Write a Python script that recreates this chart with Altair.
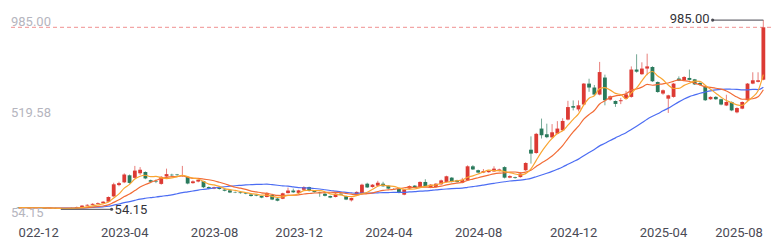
import altair as alt
import pandas as pd
import numpy as np

# ---- data (weekly candles) ----
opens = [63, 61, 64, 60, 63, 60, 58, 61, 57, 56, 59, 61, 66, 73, 77, 82, 86, 93, 120, 178,
         192, 228, 215, 238, 245, 203, 199, 184, 222, 231, 232, 225, 219, 188, 196, 198, 168, 160, 165, 155,
         151, 142, 141, 137, 130, 129, 122, 117, 127, 109, 108, 137, 150, 138, 154, 168, 148, 142, 134, 122,
         117, 134, 122, 100, 126, 137, 185, 168, 175, 185, 175, 158, 158, 129, 160, 175, 168, 194, 165, 168,
         182, 194, 216, 202, 190, 202, 274, 254, 242, 244, 248, 250, 270, 216, 218, 219, 254, 359, 342, 467,
         438, 422, 441, 458, 513, 582, 565, 590, 697, 677, 641, 728, 615, 608, 607, 620, 629, 769, 745, 774,
         782, 705, 646, 620, 629, 723, 714, 726, 719, 700, 683, 617, 629, 617, 585, 603, 550, 569, 612, 697,
         706, 717]
closes = [61, 64, 60, 63, 60, 58, 61, 57, 56, 59, 61, 66, 73, 77, 82, 86, 93, 117, 182, 188,
          232, 189, 252, 256, 212, 195, 196, 220, 234, 228, 229, 228, 186, 197, 205, 167, 160, 167, 158, 149,
          140, 140, 137, 134, 122, 124, 114, 138, 104, 98, 136, 150, 141, 151, 168, 148, 142, 139, 123, 114,
          134, 129, 104, 112, 143, 180, 166, 180, 190, 172, 160, 157, 139, 155, 173, 165, 194, 172, 180, 185,
          202, 223, 194, 194, 205, 274, 258, 242, 250, 250, 262, 258, 216, 224, 214, 237, 291, 339, 440, 433,
          423, 448, 467, 506, 577, 574, 586, 697, 677, 641, 756, 612, 632, 593, 612, 642, 769, 758, 774, 785,
          709, 654, 663, 637, 697, 712, 731, 716, 693, 690, 612, 629, 617, 590, 603, 560, 572, 603, 697, 714,
          714, 985]
highs = [64, 65, 65, 64, 64, 61, 62, 62, 58, 60, 63, 68, 75, 80, 85, 89, 96, 120, 190, 195,
         238, 232, 276, 270, 248, 206, 206, 224, 262, 236, 235, 276, 222, 202, 208, 200, 171, 170, 167, 157,
         153, 145, 143, 139, 132, 131, 124, 141, 129, 112, 139, 165, 160, 154, 172, 170, 150, 144, 136, 124,
         137, 136, 124, 114, 146, 185, 190, 183, 200, 195, 177, 162, 160, 157, 176, 178, 197, 208, 183, 188,
         206, 226, 219, 205, 215, 279, 280, 257, 260, 254, 274, 262, 274, 228, 221, 245, 295, 427, 445, 518,
         492, 490, 505, 520, 609, 611, 611, 700, 722, 690, 808, 743, 636, 611, 624, 660, 785, 847, 806, 850,
         786, 708, 667, 640, 700, 734, 735, 769, 721, 705, 686, 632, 633, 620, 640, 606, 576, 606, 700, 755,
         755, 985]
lows = [59, 60, 59, 59, 58, 57, 57, 56, 54.15, 55, 58, 60, 65, 71, 75, 80, 84, 90, 118, 172,
        188, 185, 212, 230, 208, 190, 188, 180, 218, 224, 225, 220, 182, 185, 192, 163, 156, 157, 155, 146,
        137, 137, 134, 131, 119, 121, 111, 115, 101, 95, 106, 135, 138, 135, 150, 145, 139, 118, 120, 111,
        115, 126, 101, 94, 123, 134, 163, 165, 172, 169, 157, 153, 136, 126, 157, 162, 165, 169, 162, 165,
        179, 191, 191, 191, 187, 199, 255, 239, 239, 241, 245, 247, 212, 213, 211, 216, 250, 288, 338, 416,
        418, 418, 438, 455, 509, 560, 555, 586, 655, 636, 637, 586, 610, 578, 592, 617, 625, 753, 742, 740,
        705, 650, 640, 547, 625, 710, 710, 713, 690, 686, 608, 614, 614, 586, 582, 556, 545, 566, 609, 694,
        703, 714]

x_label_pos = [3.7, 20, 37, 53, 70, 87, 105, 122, 136.3]
x_label_text = ["022-12", "2023-04", "2023-08", "2023-12", "2024-04", "2024-08",
                "2024-12", "2025-04", "2025-08"]
y_label_vals = [985.00, 519.58, 54.15]

N = len(closes)
df = pd.DataFrame({"i": list(range(N)), "open": opens, "close": closes,
                   "high": highs, "low": lows})
df["dir"] = np.where(df["close"] >= df["open"], "up", "down")

UP, DOWN = "#dc3a34", "#2a7a5c"
FONT = "Roboto"

xs = alt.Scale(domain=[-0.5, N - 0.5], nice=False, zero=False)
ys = alt.Scale(domain=[9.6, 1073.5], nice=False, zero=False)

lab_arr = "[" + ",".join("'%s'" % t for t in x_label_text) + "]"
pos_arr = "[" + ",".join(str(p) for p in x_label_pos) + "]"
xaxis = alt.Axis(values=x_label_pos, labelExpr=f"{lab_arr}[indexof({pos_arr}, datum.value)]",
                 title=None, grid=False, domain=False, ticks=False, labelPadding=8,
                 labelFontSize=13, labelColor="#4a4a55", labelFont=FONT, labelFlush=False,
                 labelOverlap=False)

def X(field="i"):
    return alt.X(f"{field}:Q", scale=xs, axis=xaxis)

def Y(field):
    return alt.Y(f"{field}:Q", scale=ys, axis=None)

color_dir = alt.Color("dir:N", scale=alt.Scale(domain=["up", "down"], range=[UP, DOWN]), legend=None)

base = alt.Chart(df)

wicks = base.mark_rule(strokeWidth=1, opacity=0.65).encode(
    x=X(), y=Y("low"), y2="high:Q", color=color_dir)
bodies = base.mark_bar(size=3.8).encode(
    x=X(), y=Y("open"), y2="close:Q", color=color_dir)

def ma(n, color):
    return base.transform_window(
        ma=f"mean(close)", frame=[-(n - 1), 0], sort=[alt.SortField("i")]
    ).mark_line(color=color, strokeWidth=1.2, interpolate="monotone").encode(x=X(), y=Y("ma"))

ma5 = ma(5, "#f9a531")
ma10 = ma(10, "#f26c36")
ma30 = ma(30, "#4c6df3")

# dashed max line
maxline = alt.Chart(pd.DataFrame({"v": [max(highs)]})).mark_rule(
    color="#f09090", strokeDash=[4, 3], strokeWidth=1).encode(y=Y("v"))

# y labels inside the plot
ylab = pd.DataFrame({"v": y_label_vals, "t": ["%.2f" % v for v in y_label_vals]})
ylab_top = alt.Chart(ylab.iloc[:2]).mark_text(
    align="left", baseline="middle", dy=-5, fontSize=13, font=FONT, color="#b5b5be").encode(
    x=alt.value(0), y=Y("v"), text="t:N")
ylab_bot = alt.Chart(ylab.iloc[2:]).mark_text(
    align="left", baseline="middle", dy=4, fontSize=13, font=FONT, color="#b5b5be").encode(
    x=alt.value(0), y=Y("v"), text="t:N")

# max / min markers
imax = int(np.argmax(highs)); vmax = highs[imax]
imin = int(np.argmin(lows)); vmin = lows[imin]
OFF, RISE = 9.6, 37.0
mk = pd.DataFrame({
    "x": [imax - OFF, imin], "x2": [imax, imin + OFF],
    "y": [vmax + RISE, vmin]})
hlines = alt.Chart(mk).mark_rule(color="#6b6b73", strokeWidth=1.2).encode(
    x=X("x"), x2="x2:Q", y=Y("y"))
vline = alt.Chart(pd.DataFrame({"x": [imax], "y": [vmax], "y2": [vmax + RISE]})).mark_rule(
    color="#ee9a9a", strokeWidth=1.2).encode(x=X("x"), y=Y("y"), y2="y2:Q")
dots = alt.Chart(pd.DataFrame({"x": [imax - OFF, imin + OFF], "y": [vmax + RISE, vmin]})).mark_point(
    filled=True, size=10, color="#4a4a52", opacity=1).encode(x=X("x"), y=Y("y"))
lab_max = alt.Chart(pd.DataFrame({"x": [imax - OFF], "y": [vmax + RISE], "t": ["%.2f" % vmax]})).mark_text(
    align="right", baseline="middle", dx=-3, dy=-1, fontSize=13, font=FONT, color="#333338").encode(
    x=X("x"), y=Y("y"), text="t:N")
lab_min = alt.Chart(pd.DataFrame({"x": [imin + OFF], "y": [vmin], "t": ["%.2f" % vmin]})).mark_text(
    align="left", baseline="middle", dx=3, dy=1, fontSize=13, font=FONT, color="#333338").encode(
    x=X("x"), y=Y("y"), text="t:N")

chart = alt.layer(
    maxline, wicks, bodies, ma30, ma10, ma5, ylab_top, ylab_bot,
    vline, hlines, dots, lab_max, lab_min
).properties(
    width=760, height=208,
    padding={"left": 11, "top": 10, "right": 9, "bottom": 32},
    autosize=alt.AutoSizeParams(type="none"),
    background="white",
).configure_view(strokeWidth=0)

chart.save("out.html", embed_options={"renderer": "svg", "actions": False})
